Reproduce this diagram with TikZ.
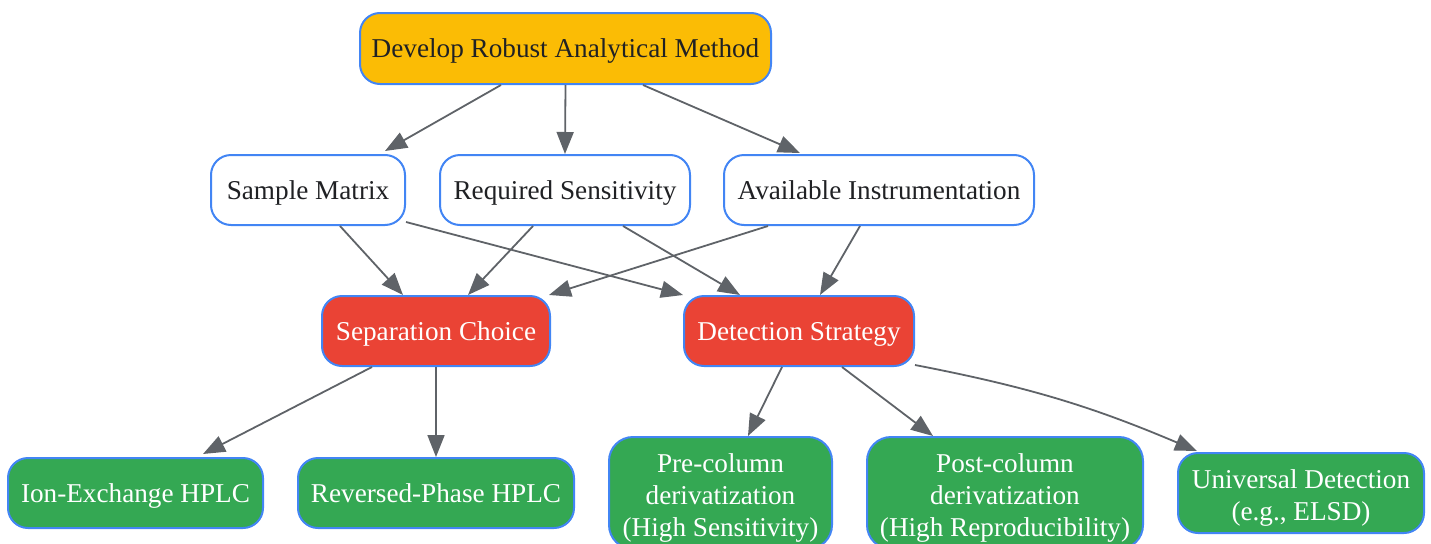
\documentclass[tikz,border=0pt]{standalone}
\usepackage{fontspec}
\setmainfont{Liberation Serif}
\usetikzlibrary{arrows.meta}
\definecolor{ouro}{HTML}{FBBC05}
\definecolor{vermelho}{HTML}{EA4335}
\definecolor{verde}{HTML}{34A853}
\definecolor{azul}{HTML}{4285F4}
\definecolor{cinza}{HTML}{5F6368}
\definecolor{texto}{HTML}{202124}
\begin{document}
\begin{tikzpicture}[x=0.5pt,y=0.5pt]
\tikzstyle{caixa}=[rectangle, rounded corners=10pt, draw=azul, line width=1pt, align=center, inner sep=0, minimum height=35pt, text height=12.4pt, text depth=3pt, font=\fontsize{13.6}{16}\selectfont]
\tikzstyle{topo}=[caixa, fill=ouro, text=texto]
\tikzstyle{fator}=[caixa, fill=white, text=texto]
\tikzstyle{escolha}=[caixa, fill=vermelho, text=white]
\tikzstyle{metodo}=[caixa, fill=verde, text=white]
\tikzstyle{duas}=[text height=30pt, text depth=3pt]
\tikzstyle{tres}=[text height=46pt, text depth=3pt, minimum height=56pt, rounded corners=12pt]
\tikzstyle{seta}=[-{Triangle[length=11pt,width=8.5pt]}, draw=cinza, line width=0.9pt]
\useasboundingbox (0,0) rectangle (1431,543);
\node[topo, minimum width=205.5pt, minimum height=35.5pt] (metodo0) at(565.5,494.5){Develop Robust Analytical Method};
\node[fator, minimum width=97pt] (matriz) at(308,353){Sample Matrix};
\node[fator, minimum width=125pt] (sens) at(565,353){Required Sensitivity};
\node[fator, minimum width=155pt] (instr) at(879,353){Available Instrumentation};
\node[escolha, minimum width=114pt] (sep) at(436,212){Separation Choice};
\node[escolha, minimum width=115pt] (det) at(799,212){Detection Strategy};
\node[metodo, minimum width=127.5pt] (ion) at(135.5,50){Ion-Exchange HPLC};
\node[metodo, minimum width=138pt] (rp) at(436,50){Reversed-Phase HPLC};
\node[metodo, tres, minimum width=111.5pt] (pre) at(720.5,50){Pre-column\\derivatization\\(High Sensitivity)};
\node[metodo, tres, minimum width=138pt] (pos) at(1005,50){Post-column\\derivatization\\(High Reproducibility)};
\node[metodo, duas, minimum width=123pt, minimum height=40pt] (univ) at(1301,50){Universal Detection\\(e.g., ELSD)};
\draw[seta]([xshift=-32.25pt]metodo0.south)--([xshift=38.5pt,yshift=1.5pt]matriz.north);
\draw[seta](metodo0.south)--(sens.north);
\draw[seta]([xshift=38.75pt]metodo0.south)--([xshift=-39.5pt,yshift=0.5pt]instr.north);
\draw[seta]([xshift=16pt]matriz.south)--([xshift=-16.5pt]sep.north);
\draw[seta]([yshift=2pt]matriz.south east)--(det.north west);
\draw[seta]([xshift=-16pt]sens.south)--([xshift=16pt]sep.north);
\draw[seta]([xshift=29pt]sens.south)--([xshift=-29.5pt]det.north);
\draw[seta]([xshift=-55.5pt]instr.south)--([xshift=-1pt]sep.north east);
\draw[seta]([xshift=-9.5pt]instr.south)--([xshift=10.5pt]det.north);
\draw[seta]([xshift=-32pt]sep.south)--([xshift=33.75pt,yshift=1.5pt]ion.north);
\draw[seta](sep.south)--(rp.north);
\draw[seta]([xshift=-8.5pt]det.south)--([xshift=13.75pt]pre.north);
\draw[seta]([xshift=21.5pt]det.south)--([xshift=-36pt]pos.north);
\draw[seta]([yshift=1pt]det.south east) to[bend left=6] ([xshift=10pt,yshift=0.5pt]univ.north west);
\end{tikzpicture}
\end{document}
